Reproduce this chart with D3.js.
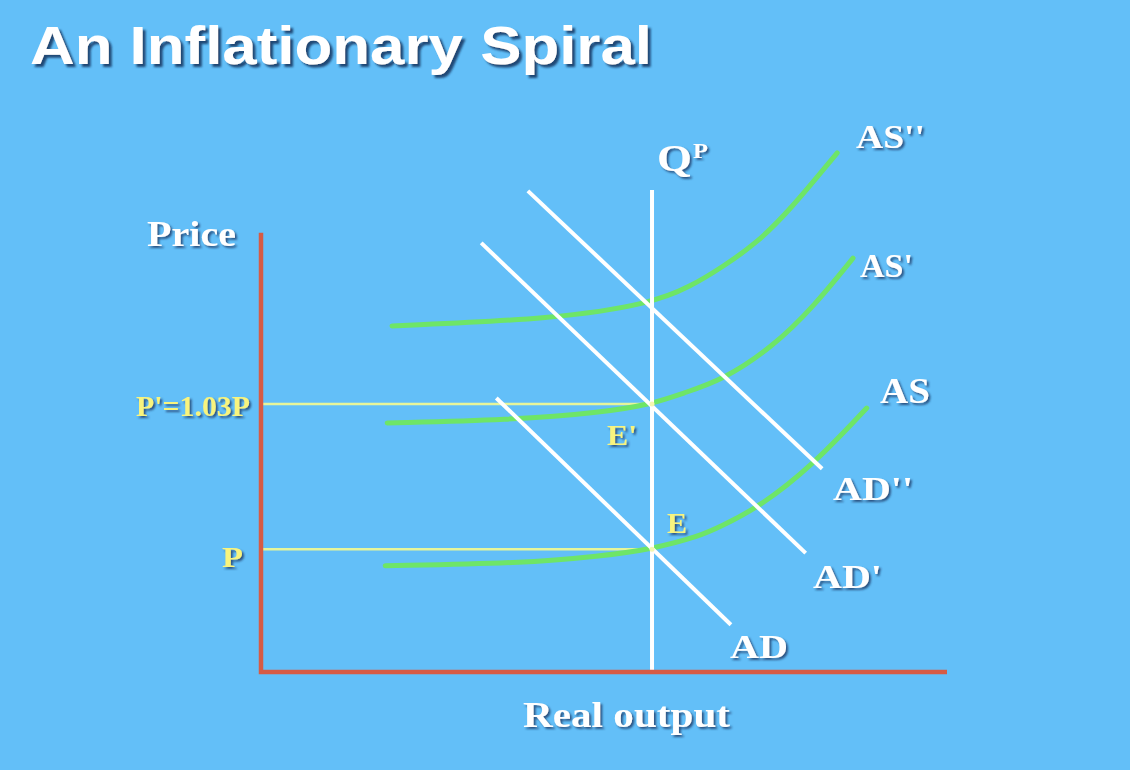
<!DOCTYPE html>
<html><head><meta charset="utf-8">
<script src="https://cdn.jsdelivr.net/npm/d3@7"></script>
<style>html,body{margin:0;padding:0;background:#63BFF8;overflow:hidden}</style>
</head><body>
<svg id="c" width="1130" height="770"></svg>
<script>
// ---- data (x: real output units, y: price units) ----
const potentialOutput = 57.0;          // Q^P
const priceLevels = [
  {name: "P", value: 28.1},
  {name: "P'=1.03P", value: 61.3}
];
const qpTop = 110.3;
const AD   = [[34.3, 62.7], [68.5, 10.8]];
const AD1  = [[32.1, 98.2], [79.4, 27.2]];
const AD2  = [[38.9, 110.1], [81.8, 46.5]];
const AS   = [[18.1,24.3],[38.2,24.9],[49.4,26.5],[57.0,28.1],[64.0,31.1],[66.9,33.2],[72.7,37.8],[80.5,47.4],[88.3,60.4]];
const AS1  = [[18.4,57.0],[36.3,57.7],[49.4,59.3],[57.0,61.3],[61.5,63.8],[67.3,66.8],[74.6,74.4],[80.5,83.5],[86.3,94.7]];
const AS2  = [[19.1,79.2],[43.1,80.8],[57.0,84.4],[62.5,88.1],[67.3,92.7],[72.3,98.2],[77.1,105.7],[84.0,118.8]];
const adNames = ["AD", "AD'", "AD''"];
const asNames = ["AS", "AS'", "AS''"];
const pointNames = ["E", "E'"];

const svg = d3.select("#c");
const x = d3.scaleLinear().domain([0, 100]).range([261, 947]);
const y = d3.scaleLinear().domain([0, 100]).range([672, 235]);

const defs = svg.append("defs");
defs.append("filter").attr("id","sh").attr("x","-20%").attr("y","-20%").attr("width","150%").attr("height","160%")
  .append("feDropShadow").attr("dx",2).attr("dy",2).attr("stdDeviation",1).attr("flood-color","#1b3f6e").attr("flood-opacity",0.85);
defs.append("filter").attr("id","shT").attr("x","-10%").attr("y","-20%").attr("width","130%").attr("height","160%")
  .append("feDropShadow").attr("dx",3).attr("dy",3).attr("stdDeviation",1.2).attr("flood-color","#173a66").attr("flood-opacity",0.9);

svg.append("rect").attr("width",1130).attr("height",770).attr("fill","#63BFF8");

function label(txt, px, py, size, width, fill, family, filt) {
  svg.append("text").attr("x", px).attr("y", py)
    .attr("font-family", family || "'Liberation Serif','Times New Roman',serif")
    .attr("font-weight", "bold").attr("font-size", size)
    .attr("fill", fill || "#ffffff")
    .attr("textLength", width).attr("lengthAdjust", "spacingAndGlyphs")
    .attr("filter", `url(#${filt || "sh"})`)
    .text(txt);
}
label("An Inflationary Spiral", 30, 64, 54, 622, "#ffffff", "'Liberation Sans',Arial,sans-serif", "shT");

// guides
const line = d3.line().x(d => x(d[0])).y(d => y(d[1]));
priceLevels.forEach(p => {
  svg.append("path").attr("d", line([[0, p.value], [potentialOutput, p.value]]))
    .attr("stroke", "#E6F59A").attr("stroke-width", 2.5).attr("fill", "none");
});

// AS curves
const curve = d3.line().x(d => x(d[0])).y(d => y(d[1])).curve(d3.curveBasis);
[AS, AS1, AS2].forEach(s => {
  svg.append("path").attr("d", curve(s)).attr("stroke", "#6EE567").attr("stroke-width", 5)
    .attr("fill", "none").attr("stroke-linecap", "round");
});

// AD lines
[AD, AD1, AD2].forEach(s => {
  svg.append("path").attr("d", line(s)).attr("stroke", "#ffffff").attr("stroke-width", 4)
    .attr("fill", "none");
});

// Q^P
svg.append("path").attr("d", line([[potentialOutput, 0], [potentialOutput, qpTop]]))
  .attr("stroke", "#ffffff").attr("stroke-width", 4);

// axes
svg.append("path").attr("d", line([[0, 100.5], [0, 0], [100, 0]]))
  .attr("stroke", "#D65B45").attr("stroke-width", 4.5).attr("fill", "none").attr("stroke-linejoin","miter");

// equilibrium points
priceLevels.forEach(p => {
  svg.append("circle").attr("cx", x(potentialOutput)).attr("cy", y(p.value)).attr("r", 2.5).attr("fill", "#F6F7B0");
});

// labels
label("Price", 147, 246, 36, 89);
label("Real output", 523, 727, 36, 207);
label("Q", 657, 171, 38, 35);
label("P", 693, 158, 20, 15);
label(priceLevels[1].name, 136, 416, 30, 114, "#F8F47E");
label(priceLevels[0].name, 222, 567, 30, 21, "#F8F47E");
label(pointNames[1], 607, 445, 29, 30, "#F8F47E");
label(pointNames[0], 667, 533, 29, 20, "#F8F47E");
label(asNames[2], 856, 148, 33, 69);
label(asNames[1], 860, 277, 33, 53);
label(asNames[0], 880, 403, 35, 50);
label(adNames[2], 833, 500, 33, 80);
label(adNames[1], 813, 588, 33, 69);
label(adNames[0], 730, 658, 33, 58);
</script>
</body></html>
